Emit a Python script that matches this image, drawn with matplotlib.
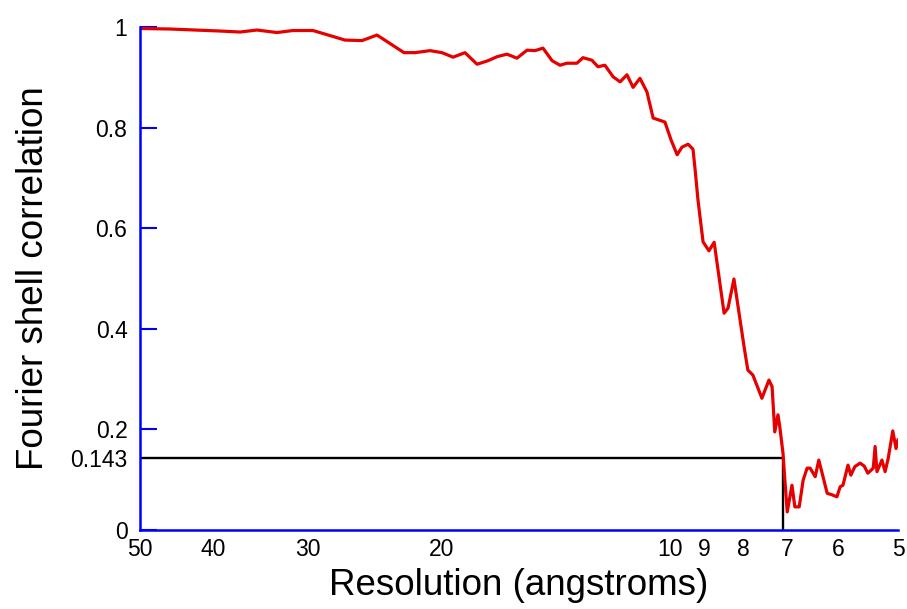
import matplotlib
matplotlib.use("Agg")
import matplotlib.pyplot as plt
from matplotlib.ticker import FixedLocator, NullFormatter

plt.rcParams["font.family"] = ["Liberation Sans", "DejaVu Sans"]

# FSC curve (resolution in angstroms, correlation)
resolution = [50.0, 45.65, 39.21, 36.90, 35.05, 32.99, 31.42, 29.56, 26.82, 25.47,
              24.34, 22.42, 21.68, 20.72, 19.98, 19.32, 18.63, 17.96, 17.37, 16.90,
              16.40, 15.91, 15.43, 15.06, 14.70, 14.30, 13.96, 13.67, 13.26, 13.02,
              12.67, 12.44, 12.18, 11.88, 11.63, 11.39, 11.18, 10.95, 10.72, 10.52,
              10.15, 9.96, 9.78, 9.64, 9.46, 9.32, 9.26, 9.18, 9.04, 8.88,
              8.74, 8.48, 8.38, 8.23, 7.98, 7.89, 7.77, 7.56, 7.40, 7.33,
              7.27, 7.20, 7.16, 7.09, 7.05, 7.00, 6.90, 6.84, 6.75, 6.67,
              6.59, 6.53, 6.43, 6.36, 6.20, 6.11, 6.02, 5.96, 5.91, 5.82,
              5.77, 5.70, 5.61, 5.54, 5.48, 5.39, 5.36, 5.33, 5.25, 5.20,
              5.15, 5.08, 5.03, 5.0]
fsc = [0.997, 0.996, 0.992, 0.990, 0.994, 0.989, 0.993, 0.993, 0.974, 0.973,
       0.984, 0.949, 0.949, 0.953, 0.949, 0.940, 0.949, 0.926, 0.933, 0.941,
       0.946, 0.938, 0.954, 0.953, 0.958, 0.933, 0.924, 0.928, 0.928, 0.939,
       0.934, 0.921, 0.924, 0.901, 0.891, 0.905, 0.880, 0.898, 0.871, 0.819,
       0.811, 0.775, 0.746, 0.761, 0.767, 0.757, 0.716, 0.656, 0.573, 0.555,
       0.572, 0.431, 0.441, 0.499, 0.364, 0.318, 0.308, 0.262, 0.298, 0.285,
       0.195, 0.229, 0.205, 0.152, 0.099, 0.036, 0.089, 0.046, 0.046, 0.099,
       0.123, 0.123, 0.106, 0.139, 0.073, 0.070, 0.066, 0.086, 0.089, 0.129,
       0.109, 0.126, 0.133, 0.127, 0.113, 0.123, 0.166, 0.116, 0.139, 0.116,
       0.143, 0.197, 0.162, 0.179]

threshold = 0.143
threshold_res = 7.1

x_ticks = [50, 40, 30, 20, 10, 9, 8, 7, 6, 5]
y_ticks = [0, 0.2, 0.4, 0.6, 0.8, 1]
y_tick_labels = ["0", "0.2", "0.4", "0.6", "0.8", "1"]

fig = plt.figure(figsize=(9.07, 6.09), dpi=100)
ax = fig.add_axes([140 / 907, 79 / 609, 758 / 907, 503 / 609])

# threshold lines, then the curve on top
ax.plot([50, threshold_res, threshold_res], [threshold, threshold, 0],
        color="black", lw=1.7, solid_joinstyle="miter")
ax.plot(resolution, fsc, color="#e60000", lw=2.3)

ax.set_xscale("log")
ax.set_xlim(50, 5)
ax.set_ylim(0, 1)

ax.set_xticks(x_ticks, [str(t) for t in x_ticks])
ax.xaxis.set_minor_locator(FixedLocator([10]))
ax.xaxis.set_minor_formatter(NullFormatter())
ax.tick_params(axis="x", which="major", length=0, labelsize=16.5, pad=6)
ax.tick_params(axis="x", which="minor", direction="in", length=12, width=1.5,
               color="blue")

ax.set_yticks(y_ticks, y_tick_labels)
ax.set_yticks([threshold], ["0.143"], minor=True)
ax.tick_params(axis="y", which="major", direction="in", length=12, width=1.5,
               color="blue", labelsize=16.5, pad=9)
ax.tick_params(axis="y", which="minor", length=0, labelsize=16.5, pad=9)

for side in ["top", "right"]:
    ax.spines[side].set_visible(False)
for side in ["left", "bottom"]:
    ax.spines[side].set_color("blue")
    ax.spines[side].set_linewidth(1.8)

ax.set_xlabel("Resolution (angstroms)", fontsize=26.5)
ax.set_ylabel("Fourier shell correlation", fontsize=26.5)
ax.xaxis.set_label_coords(0.5, -0.075)
ax.yaxis.set_label_coords(-0.117, 0.5)

fig.savefig("out.png", dpi=100)
